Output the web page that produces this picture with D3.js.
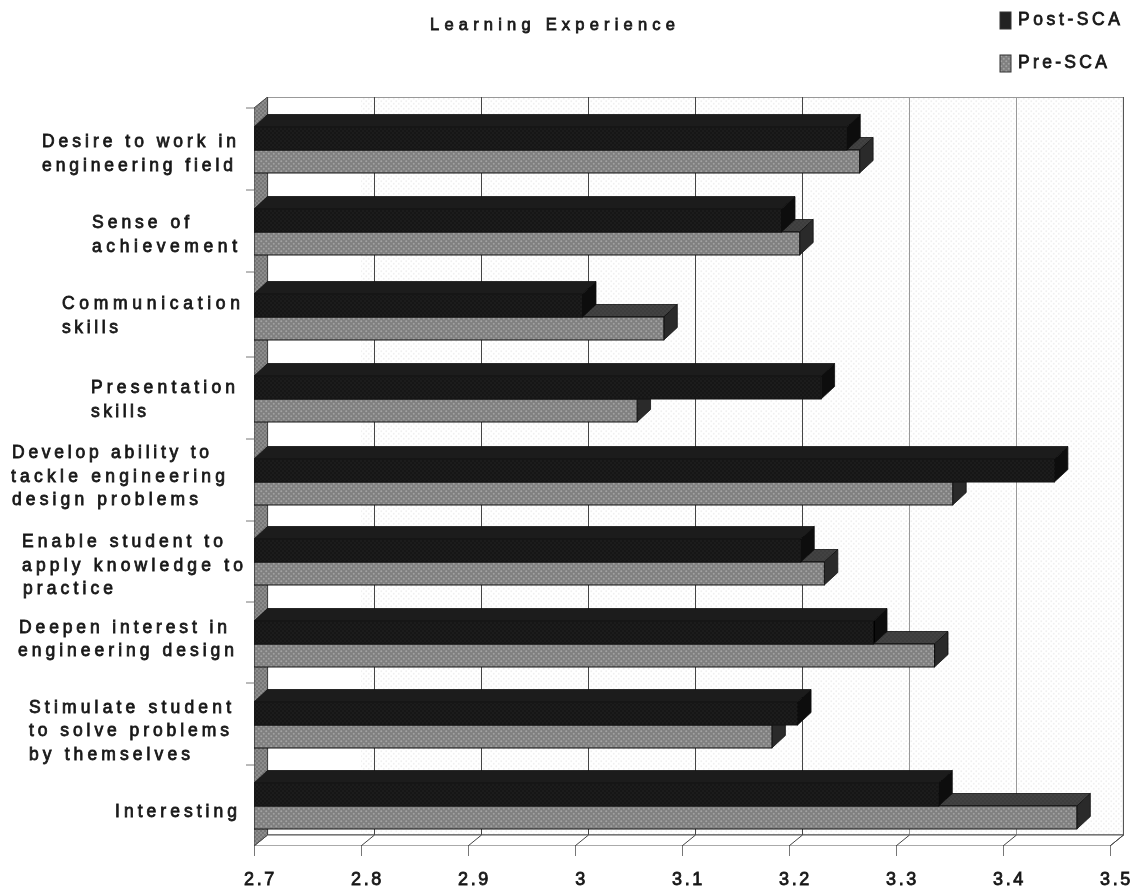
<!DOCTYPE html>
<html><head><meta charset="utf-8">
<script src="https://cdn.jsdelivr.net/npm/d3@7"></script>
<style>
html,body{margin:0;padding:0;background:#fff}
svg{display:block}
text{font-family:"Liberation Sans",Arial,sans-serif;fill:#1a1a1a;stroke:#1a1a1a;stroke-width:.8px;font-weight:400}
</style></head><body>
<svg id="c" width="1141" height="891"></svg>
<script>
const title = "Learning Experience";
const categories = [
  "Desire to work in\nengineering field",
  "Sense of\nachievement",
  "Communication\nskills",
  "Presentation\nskills",
  "Develop ability to\ntackle engineering\ndesign problems",
  "Enable student to\napply knowledge to\npractice",
  "Deepen interest in\nengineering design",
  "Stimulate student\nto solve problems\nby themselves",
  "Interesting"
];
const seriesNames = ["Post-SCA","Pre-SCA"];
const postValues = [3.254,3.193,3.007,3.230,3.448,3.211,3.279,3.208,3.340];
const preValues  = [3.266,3.210,3.083,3.058,3.353,3.233,3.336,3.184,3.469];
const tickValues = [2.7,2.8,2.9,3,3.1,3.2,3.3,3.4,3.5];

// layout (scan is slightly warped, so rows are not perfectly even)
const rowTops  = [108,190,275,357,440,520,602,683,764];
const tickTops = [108,190,272,357,439,521,602,683,765];
const labelBoxes = [
  [[42,239,141],[42,236,165]],
  [[92,192,222],[92,240,246]],
  [[62,243,303],[62,121,327]],
  [[91,238,387],[91,149,411]],
  [[12,212,452],[11,228,476],[12,201,499]],
  [[22,226,541],[22,246,565],[23,116,588]],
  [[19,230,627],[18,237,650]],
  [[29,234,707],[29,232,730],[29,193,754]],
  [[115,240,811]]
];

const dx=13.5, dy=11, barDy=12.5;
const x=d3.scaleLinear().domain([2.7,3.5]).range([254,1110]);
const y=d3.scaleOrdinal().domain(categories).range(rowTops);
const yTick=d3.scaleOrdinal().domain(categories).range(tickTops);
const inner=d3.scaleBand().domain(seriesNames).range([19,65]);
const svg=d3.select("#c");
const defs=svg.append("defs");
function dots(id,bg,fg,size,r,op){
  const p=defs.append("pattern").attr("id",id).attr("width",size).attr("height",size)
    .attr("patternUnits","userSpaceOnUse");
  p.append("rect").attr("width",size).attr("height",size).attr("fill",bg);
  p.append("circle").attr("cx",size/4).attr("cy",size/4).attr("r",r).attr("fill",fg).attr("opacity",op);
  p.append("circle").attr("cx",size*3/4).attr("cy",size*3/4).attr("r",r).attr("fill",fg).attr("opacity",op);
}
dots("preF","#808080","#a6a6a6",5,1,.9);
dots("preT","#3c3c3c","#505050",4,.8,.8);
dots("postF","#181818","#2a2a2a",4,.8,.9);
dots("wall","#777","#999",4,.9,.9);
dots("back","#fff","#e6e6e6",5,.9,1);
const f=defs.append("filter").attr("id","soft").attr("x","0").attr("y","0").attr("width","1").attr("height","1");
f.append("feGaussianBlur").attr("stdDeviation",.5);

const g=svg.append("g").attr("filter","url(#soft)");
const [x0,x1]=x.range(), y0=108, y1=846;
const poly=pts=>pts.map(p=>p.join(",")).join(" ");

// back wall
g.append("rect").attr("x",x(2.8)).attr("y",y0-dy).attr("width",x1-x(2.8)+dx).attr("height",y1-y0)
  .attr("fill","url(#back)").attr("opacity",.6);
g.append("rect").attr("x",x0+dx).attr("y",y0-dy).attr("width",x1-x0).attr("height",y1-y0)
  .attr("fill","none").attr("stroke","#555").attr("stroke-width",1.2);
// grid
tickValues.forEach(t=>{
  const c=t>=3.25?"#999":"#444";
  if(t>2.7&&t<3.5) g.append("line").attr("x1",x(t)+dx).attr("x2",x(t)+dx).attr("y1",y0-dy).attr("y2",y1-dy).attr("stroke",c);
});
// floor
g.append("polygon").attr("points",poly([[x0,y1],[x0+dx,y1-dy],[x1+dx,y1-dy],[x1,y1]]))
  .attr("fill","#fff").attr("stroke","#555");
tickValues.forEach(t=>{
  if(t>2.7) g.append("line").attr("x1",x(t)).attr("x2",x(t)+dx).attr("y1",y1).attr("y2",y1-dy).attr("stroke","#444");
});
// left wall
g.append("polygon").attr("points",poly([[x0,y0],[x0+dx,y0-dy],[x0+dx,y1-dy],[x0,y1]]))
  .attr("fill","url(#wall)").attr("stroke","#444");

// bars
function bar(vals,name,front,top,side){
  const s=g.append("g");
  vals.forEach((v,i)=>{
    const b=y(categories[i])+inner(name), h=inner.bandwidth(), r=x(v);
    s.append("polygon").attr("points",poly([[x0,b],[x0+dx,b-barDy],[r+dx,b-barDy],[r,b]])).attr("fill",top).attr("stroke","#111").attr("stroke-width",.8);
    s.append("polygon").attr("points",poly([[r,b],[r+dx,b-barDy],[r+dx,b+h-barDy],[r,b+h]])).attr("fill",side).attr("stroke","#111").attr("stroke-width",.8);
    s.append("rect").attr("x",x0).attr("y",b).attr("width",r-x0).attr("height",h).attr("fill",front).attr("stroke","#111").attr("stroke-width",1);
  });
}
bar(preValues,"Pre-SCA","url(#preF)","url(#preT)","#2a2a2a");
bar(postValues,"Post-SCA","url(#postF)","#1c1c1c","#080808");

const t=svg.append("g").attr("filter","url(#soft)");
// axes
const ax=d3.axisBottom(x).tickValues(tickValues).tickFormat(d=>String(d)).tickSize(10).tickPadding(16);
const axG=t.append("g").attr("transform",`translate(0,${y1})`).call(ax);
axG.select(".domain").remove();
axG.selectAll("line").attr("stroke","#777");
axG.selectAll("text").attr("font-size",18).attr("letter-spacing",2.6).attr("dx",6);
categories.forEach(c=>{
  t.append("line").attr("x1",x0-8).attr("x2",x0).attr("y1",yTick(c)).attr("y2",yTick(c)).attr("stroke","#777");
});

// category labels
categories.forEach((c,i)=>{
  c.split("\n").forEach((ln,j)=>{
    const [l,r,cy]=labelBoxes[i][j];
    t.append("text").attr("x",l).attr("y",cy).attr("dominant-baseline","central")
      .attr("font-size",17.5).attr("textLength",r-l-3).attr("lengthAdjust","spacing").text(ln);
  });
});
// title
t.append("text").attr("x",430).attr("y",24).attr("dominant-baseline","central")
  .attr("font-size",16.5).attr("textLength",245).attr("lengthAdjust","spacing").text(title);
// legend
const legendTop=d3.scaleOrdinal().domain(seriesNames).range([12,55]);
const legendWidth=d3.scaleOrdinal().domain(seriesNames).range([102,89]);
seriesNames.forEach((n,i)=>{
  t.append("rect").attr("x",1000).attr("y",legendTop(n)).attr("width",11).attr("height",17)
    .attr("fill",i?"url(#preF)":"#222").attr("stroke","#333");
  t.append("text").attr("x",1018).attr("y",legendTop(n)+7).attr("dominant-baseline","central")
    .attr("font-size",17.5).attr("textLength",legendWidth(n)).attr("lengthAdjust","spacing").text(n);
});
</script>
</body></html>
